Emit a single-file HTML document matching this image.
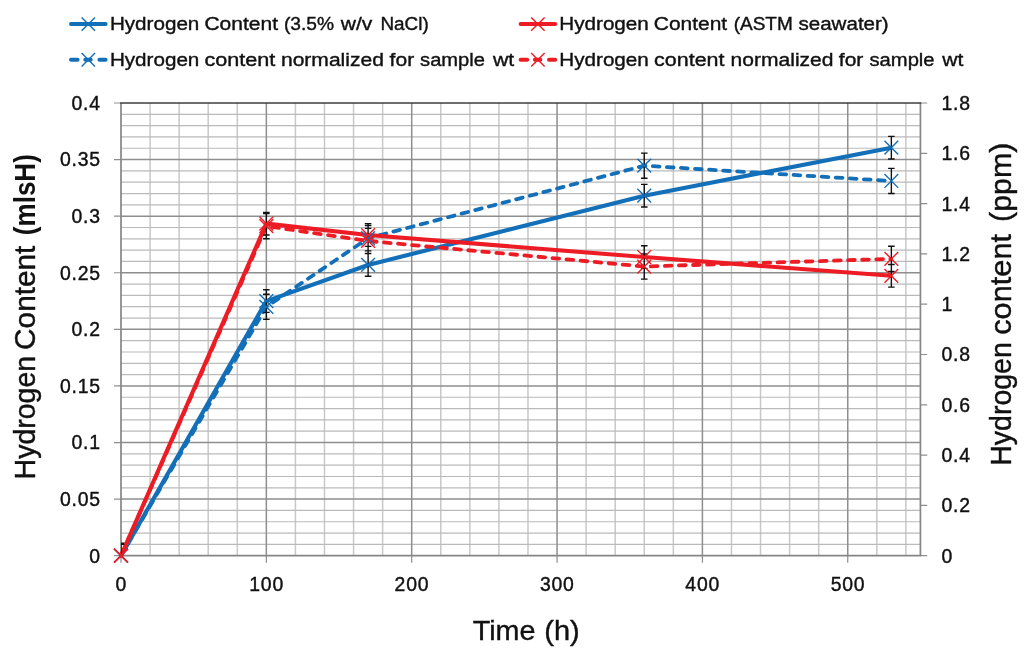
<!DOCTYPE html>
<html lang="en">
<head>
<meta charset="utf-8">
<title>Hydrogen Content vs Time</title>
<style>
html,body{margin:0;padding:0;background:#fff;}
body{width:1024px;height:653px;overflow:hidden;}
svg{display:block;}
text{font-family:"Liberation Sans",Arial,sans-serif;fill:#111;stroke:#111;stroke-width:0.4px;}
</style>
</head>
<body>
<svg width="1024" height="653" viewBox="0 0 1024 653">
<rect x="0" y="0" width="1024" height="653" fill="#ffffff"/>
<path d="M150.07 103.00V555.70M179.14 103.00V555.70M208.21 103.00V555.70M237.28 103.00V555.70M295.42 103.00V555.70M324.49 103.00V555.70M353.56 103.00V555.70M382.63 103.00V555.70M440.77 103.00V555.70M469.84 103.00V555.70M498.91 103.00V555.70M527.98 103.00V555.70M586.12 103.00V555.70M615.19 103.00V555.70M644.26 103.00V555.70M673.33 103.00V555.70M731.47 103.00V555.70M760.54 103.00V555.70M789.61 103.00V555.70M818.68 103.00V555.70M876.82 103.00V555.70M905.89 103.00V555.70" stroke="#c8c8c8" stroke-width="1.5" fill="none"/>
<path d="M121.00 544.38H920.42M121.00 533.07H920.42M121.00 521.75H920.42M121.00 510.43H920.42M121.00 487.80H920.42M121.00 476.48H920.42M121.00 465.16H920.42M121.00 453.84H920.42M121.00 431.21H920.42M121.00 419.89H920.42M121.00 408.57H920.42M121.00 397.25H920.42M121.00 374.62H920.42M121.00 363.30H920.42M121.00 351.99H920.42M121.00 340.67H920.42M121.00 318.03H920.42M121.00 306.72H920.42M121.00 295.40H920.42M121.00 284.08H920.42M121.00 261.45H920.42M121.00 250.13H920.42M121.00 238.81H920.42M121.00 227.49H920.42M121.00 204.86H920.42M121.00 193.54H920.42M121.00 182.22H920.42M121.00 170.90H920.42M121.00 148.27H920.42M121.00 136.95H920.42M121.00 125.64H920.42M121.00 114.32H920.42" stroke="#bababa" stroke-width="1.2" fill="none"/>
<path d="M121.00 499.11H920.42M121.00 442.53H920.42M121.00 385.94H920.42M121.00 329.35H920.42M121.00 272.76H920.42M121.00 216.18H920.42M121.00 159.59H920.42M266.35 103.00V555.70M411.70 103.00V555.70M557.05 103.00V555.70M702.40 103.00V555.70M847.75 103.00V555.70" stroke="#8e8e8e" stroke-width="1.5" fill="none"/>
<path d="M114.00 555.70H121.00M114.00 499.11H121.00M114.00 442.53H121.00M114.00 385.94H121.00M114.00 329.35H121.00M114.00 272.76H121.00M114.00 216.18H121.00M114.00 159.59H121.00M114.00 103.00H121.00M121.00 555.70V562.70M266.35 555.70V562.70M411.70 555.70V562.70M557.05 555.70V562.70M702.40 555.70V562.70M847.75 555.70V562.70M920.42 555.70H927.22M920.42 505.40H927.22M920.42 455.10H927.22M920.42 404.80H927.22M920.42 354.50H927.22M920.42 304.20H927.22M920.42 253.90H927.22M920.42 203.60H927.22M920.42 153.30H927.22M920.42 103.00H927.22" stroke="#8e8e8e" stroke-width="1.2" fill="none"/>
<path d="M121.00 103.00V555.70M920.42 103.00V555.70M120.20 555.70H921.22" stroke="#868686" stroke-width="1.7" fill="none"/>
<path d="M120.20 103.00H921.22" stroke="#3c3c3c" stroke-width="1.7" fill="none"/>
<clipPath id="pc"><rect x="121.00" y="103.00" width="799.42" height="452.70"/></clipPath>
<polyline points="121.00,555.70 266.35,301.06 368.10,264.95 644.26,195.69 891.36,147.70" fill="none" stroke="#136fb8" stroke-width="4.1" stroke-linejoin="round"/>
<polyline points="121.00,555.70 266.35,306.83 368.10,238.24 644.26,165.70 891.36,180.98" fill="none" stroke="#136fb8" stroke-width="3.8" stroke-linejoin="round" stroke-dasharray="6.7 7.4" stroke-dashoffset="14.10" stroke-linecap="round"/>
<polyline points="121.00,555.70 266.35,223.64 368.10,235.08 644.26,257.03 891.36,275.82" fill="none" stroke="#ed1c24" stroke-width="4.1" stroke-linejoin="round"/>
<polyline points="121.00,555.70 266.35,226.13 368.10,240.96 644.26,266.54 891.36,258.84" fill="none" stroke="#ed1c24" stroke-width="3.8" stroke-linejoin="round" stroke-dasharray="6.7 7.4" stroke-dashoffset="0.42" stroke-linecap="round"/>
<path d="M121.00 544.38V567.02M117.70 544.38H124.30M117.70 567.02H124.30M266.35 289.74V312.37M263.05 289.74H269.65M263.05 312.37H269.65M368.10 253.64V276.27M364.80 253.64H371.40M364.80 276.27H371.40M644.26 184.37V207.01M640.96 184.37H647.56M640.96 207.01H647.56M891.36 136.39V159.02M888.06 136.39H894.65M888.06 159.02H894.65M121.00 543.10V568.30M117.70 543.10H124.30M117.70 568.30H124.30M266.35 294.23V319.42M263.05 294.23H269.65M263.05 319.42H269.65M368.10 225.65V250.84M364.80 225.65H371.40M364.80 250.84H371.40M644.26 153.10V178.30M640.96 153.10H647.56M640.96 178.30H647.56M891.36 168.38V193.57M888.06 168.38H894.65M888.06 193.57H894.65M121.00 544.38V567.02M117.70 544.38H124.30M117.70 567.02H124.30M266.35 212.33V234.96M263.05 212.33H269.65M263.05 234.96H269.65M368.10 223.76V246.39M364.80 223.76H371.40M364.80 246.39H371.40M644.26 245.71V268.35M640.96 245.71H647.56M640.96 268.35H647.56M891.36 264.50V287.14M888.06 264.50H894.65M888.06 287.14H894.65M121.00 543.10V568.30M117.70 543.10H124.30M117.70 568.30H124.30M266.35 213.54V238.73M263.05 213.54H269.65M263.05 238.73H269.65M368.10 228.36V253.56M364.80 228.36H371.40M364.80 253.56H371.40M644.26 253.94V279.13M640.96 253.94H647.56M640.96 279.13H647.56M891.36 246.25V271.44M888.06 246.25H894.65M888.06 271.44H894.65" stroke="#111" stroke-width="1.4" fill="none" clip-path="url(#pc)"/>
<path d="M114.10 548.80L127.90 562.60M114.10 562.60L127.90 548.80M259.45 294.16L273.25 307.96M259.45 307.96L273.25 294.16M361.20 258.05L375.00 271.85M361.20 271.85L375.00 258.05M637.36 188.79L651.16 202.59M637.36 202.59L651.16 188.79M884.46 140.80L898.25 154.60M884.46 154.60L898.25 140.80" stroke="#136fb8" stroke-width="1.4" fill="none"/>
<path d="M114.10 548.80L127.90 562.60M114.10 562.60L127.90 548.80M259.45 299.93L273.25 313.73M259.45 313.73L273.25 299.93M361.20 231.34L375.00 245.14M361.20 245.14L375.00 231.34M637.36 158.80L651.16 172.60M637.36 172.60L651.16 158.80M884.46 174.08L898.25 187.88M884.46 187.88L898.25 174.08" stroke="#136fb8" stroke-width="1.4" fill="none"/>
<path d="M114.10 548.80L127.90 562.60M114.10 562.60L127.90 548.80M259.45 216.74L273.25 230.54M259.45 230.54L273.25 216.74M361.20 228.18L375.00 241.98M361.20 241.98L375.00 228.18M637.36 250.13L651.16 263.93M637.36 263.93L651.16 250.13M884.46 268.92L898.25 282.72M884.46 282.72L898.25 268.92" stroke="#ed1c24" stroke-width="1.4" fill="none"/>
<path d="M114.10 548.80L127.90 562.60M114.10 562.60L127.90 548.80M259.45 219.23L273.25 233.03M259.45 233.03L273.25 219.23M361.20 234.06L375.00 247.86M361.20 247.86L375.00 234.06M637.36 259.64L651.16 273.44M637.36 273.44L651.16 259.64M884.46 251.94L898.25 265.74M884.46 265.74L898.25 251.94" stroke="#ed1c24" stroke-width="1.4" fill="none"/>
<path d="M71 24.1H105.6" stroke="#136fb8" stroke-width="4" stroke-linecap="round" fill="none"/>
<path d="M81.60 17.40L95.00 30.80M81.60 30.80L95.00 17.40" stroke="#136fb8" stroke-width="1.4" fill="none"/>
<path d="M71.00 59.8H77.60M99.40 59.8H105.60M85.30 59.8H90.70" stroke="#136fb8" stroke-width="4" stroke-linecap="round" fill="none"/>
<path d="M81.60 53.10L95.00 66.50M81.60 66.50L95.00 53.10" stroke="#136fb8" stroke-width="1.4" fill="none"/>
<path d="M520.6 24.1H555.2" stroke="#ed1c24" stroke-width="4" stroke-linecap="round" fill="none"/>
<path d="M531.20 17.40L544.60 30.80M531.20 30.80L544.60 17.40" stroke="#ed1c24" stroke-width="1.4" fill="none"/>
<path d="M520.60 59.8H527.20M549.00 59.8H555.20M534.90 59.8H540.30" stroke="#ed1c24" stroke-width="4" stroke-linecap="round" fill="none"/>
<path d="M531.20 53.10L544.60 66.50M531.20 66.50L544.60 53.10" stroke="#ed1c24" stroke-width="1.4" fill="none"/>
<text y="30" font-size="19.2"><tspan x="109.92" textLength="89.42" lengthAdjust="spacingAndGlyphs">Hydrogen</tspan> <tspan x="204.44" textLength="73.56" lengthAdjust="spacingAndGlyphs">Content</tspan> <tspan x="283.91" textLength="50.09" lengthAdjust="spacingAndGlyphs">(3.5%</tspan> <tspan x="340.71" textLength="31.57" lengthAdjust="spacingAndGlyphs">w/v</tspan> <tspan x="380.41" textLength="48.34" lengthAdjust="spacingAndGlyphs">NaCl)</tspan></text>
<text y="65.8" font-size="19.2"><tspan x="109.92" textLength="89.42" lengthAdjust="spacingAndGlyphs">Hydrogen</tspan> <tspan x="204.43" textLength="70.89" lengthAdjust="spacingAndGlyphs">content</tspan> <tspan x="280.96" textLength="102.95" lengthAdjust="spacingAndGlyphs">normalized</tspan> <tspan x="389.64" textLength="24.51" lengthAdjust="spacingAndGlyphs">for</tspan> <tspan x="420.08" textLength="64.90" lengthAdjust="spacingAndGlyphs">sample</tspan> <tspan x="492.97" textLength="21.26" lengthAdjust="spacingAndGlyphs">wt</tspan></text>
<text y="30" font-size="19.2"><tspan x="559.28" textLength="89.57" lengthAdjust="spacingAndGlyphs">Hydrogen</tspan> <tspan x="653.77" textLength="73.41" lengthAdjust="spacingAndGlyphs">Content</tspan> <tspan x="733.70" textLength="59.06" lengthAdjust="spacingAndGlyphs">(ASTM</tspan> <tspan x="798.44" textLength="90.29" lengthAdjust="spacingAndGlyphs">seawater)</tspan></text>
<text y="65.8" font-size="19.2"><tspan x="559.28" textLength="89.57" lengthAdjust="spacingAndGlyphs">Hydrogen</tspan> <tspan x="654.14" textLength="70.41" lengthAdjust="spacingAndGlyphs">content</tspan> <tspan x="730.56" textLength="102.95" lengthAdjust="spacingAndGlyphs">normalized</tspan> <tspan x="838.81" textLength="24.57" lengthAdjust="spacingAndGlyphs">for</tspan> <tspan x="869.54" textLength="65.04" lengthAdjust="spacingAndGlyphs">sample</tspan> <tspan x="942.18" textLength="21.06" lengthAdjust="spacingAndGlyphs">wt</tspan></text>
<text y="640" font-size="28.5"><tspan x="472.68" textLength="62.84" lengthAdjust="spacingAndGlyphs">Time</tspan> <tspan x="544.36" textLength="35.39" lengthAdjust="spacingAndGlyphs">(h)</tspan></text>
<text x="100.9" y="562.6" font-size="19.4" text-anchor="end" letter-spacing="0.8">0</text>
<text x="100.9" y="506.01" font-size="19.4" text-anchor="end" letter-spacing="0.8">0.05</text>
<text x="100.9" y="449.43" font-size="19.4" text-anchor="end" letter-spacing="0.8">0.1</text>
<text x="100.9" y="392.84" font-size="19.4" text-anchor="end" letter-spacing="0.8">0.15</text>
<text x="100.9" y="336.25" font-size="19.4" text-anchor="end" letter-spacing="0.8">0.2</text>
<text x="100.9" y="279.66" font-size="19.4" text-anchor="end" letter-spacing="0.8">0.25</text>
<text x="100.9" y="223.08" font-size="19.4" text-anchor="end" letter-spacing="0.8">0.3</text>
<text x="100.9" y="166.49" font-size="19.4" text-anchor="end" letter-spacing="0.8">0.35</text>
<text x="100.9" y="109.9" font-size="19.4" text-anchor="end" letter-spacing="0.8">0.4</text>
<text x="941.5" y="562.6" font-size="19.4" text-anchor="start" letter-spacing="0.8">0</text>
<text x="941.5" y="512.3" font-size="19.4" text-anchor="start" letter-spacing="0.8">0.2</text>
<text x="941.5" y="462.0" font-size="19.4" text-anchor="start" letter-spacing="0.8">0.4</text>
<text x="941.5" y="411.7" font-size="19.4" text-anchor="start" letter-spacing="0.8">0.6</text>
<text x="941.5" y="361.4" font-size="19.4" text-anchor="start" letter-spacing="0.8">0.8</text>
<text x="941.5" y="311.1" font-size="19.4" text-anchor="start" letter-spacing="0.8">1</text>
<text x="941.5" y="260.8" font-size="19.4" text-anchor="start" letter-spacing="0.8">1.2</text>
<text x="941.5" y="210.5" font-size="19.4" text-anchor="start" letter-spacing="0.8">1.4</text>
<text x="941.5" y="160.2" font-size="19.4" text-anchor="start" letter-spacing="0.8">1.6</text>
<text x="941.5" y="109.9" font-size="19.4" text-anchor="start" letter-spacing="0.8">1.8</text>
<text x="121.3" y="591.3" font-size="19.4" text-anchor="middle" letter-spacing="0.8">0</text>
<text x="266.65" y="591.3" font-size="19.4" text-anchor="middle" letter-spacing="0.8">100</text>
<text x="412.0" y="591.3" font-size="19.4" text-anchor="middle" letter-spacing="0.8">200</text>
<text x="557.35" y="591.3" font-size="19.4" text-anchor="middle" letter-spacing="0.8">300</text>
<text x="702.7" y="591.3" font-size="19.4" text-anchor="middle" letter-spacing="0.8">400</text>
<text x="848.05" y="591.3" font-size="19.4" text-anchor="middle" letter-spacing="0.8">500</text>
<text transform="translate(34.9 0) rotate(-90)" y="0" font-size="29"><tspan x="-479.46" textLength="123.63" lengthAdjust="spacingAndGlyphs">Hydrogen</tspan> <tspan x="-349.90" textLength="104.24" lengthAdjust="spacingAndGlyphs">Content</tspan> <tspan x="-235.13" textLength="80.94" lengthAdjust="spacingAndGlyphs" font-weight="bold" stroke="none" font-size="30">(mlsH)</tspan></text>
<text transform="translate(1010.7 0) rotate(-90)" y="0" font-size="29"><tspan x="-465.69" textLength="123.43" lengthAdjust="spacingAndGlyphs">Hydrogen</tspan> <tspan x="-334.75" textLength="100.87" lengthAdjust="spacingAndGlyphs">content</tspan> <tspan x="-221.94" textLength="79.35" lengthAdjust="spacingAndGlyphs">(ppm)</tspan></text>
</svg>
</body>
</html>
